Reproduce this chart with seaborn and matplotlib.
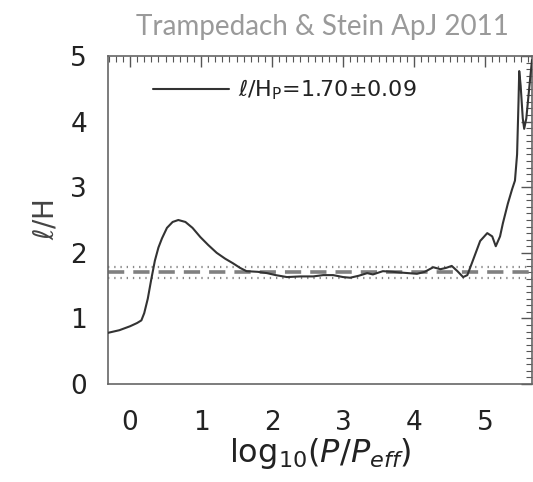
import numpy as np
import pandas as pd
import matplotlib
matplotlib.use("Agg")
import matplotlib.pyplot as plt
import seaborn as sns
from matplotlib.ticker import MultipleLocator

# data
log_p = [-0.31, -0.15, 0.00, 0.10, 0.16, 0.20, 0.25, 0.30, 0.35, 0.40, 0.45, 0.52,
         0.60, 0.68, 0.78, 0.88, 0.99, 1.10, 1.22, 1.34, 1.45, 1.55, 1.64, 1.80,
         1.93, 2.05, 2.21, 2.40, 2.58, 2.72, 2.86, 3.00, 3.10, 3.22, 3.34, 3.42,
         3.56, 3.70, 3.80, 3.92, 4.04, 4.15, 4.27, 4.37, 4.45, 4.53, 4.61, 4.69,
         4.75, 4.83, 4.93, 5.03, 5.10, 5.15, 5.21, 5.25, 5.32, 5.38, 5.42, 5.45,
         5.47, 5.48, 5.50, 5.53, 5.55, 5.58, 5.62, 5.66]
l_over_h = [0.78, 0.82, 0.88, 0.93, 0.97, 1.08, 1.30, 1.60, 1.88, 2.08, 2.22, 2.38,
            2.47, 2.50, 2.47, 2.38, 2.24, 2.12, 2.00, 1.91, 1.84, 1.77, 1.72, 1.71,
            1.69, 1.66, 1.63, 1.64, 1.64, 1.66, 1.66, 1.63, 1.62, 1.65, 1.69, 1.67,
            1.72, 1.71, 1.70, 1.69, 1.68, 1.71, 1.78, 1.75, 1.77, 1.80, 1.72, 1.63,
            1.66, 1.89, 2.18, 2.30, 2.25, 2.10, 2.25, 2.45, 2.75, 2.97, 3.10, 3.50,
            4.30, 4.77, 4.55, 4.05, 3.89, 4.05, 4.50, 4.94]
mean_val = 1.70
err_val = 0.09
x_ticks = [0, 1, 2, 3, 4, 5]
y_ticks = [0, 1, 2, 3, 4, 5]
title_text = "Trampedach & Stein ApJ 2011"
legend_text = r"$\ell$/H$_{\rm P}$=1.70$\pm$0.09"

df = pd.DataFrame({"x": log_p, "y": l_over_h})

sns.set_theme(style="white")
plt.rcParams["font.family"] = ["DejaVu Sans"]

fig = plt.figure(figsize=(5.33, 4.82), dpi=100)
ax = fig.add_axes([108 / 533, (482 - 384) / 482, (532 - 108) / 533, (384 - 56) / 482])

ax.axhline(mean_val, color="#808080", lw=2.6, ls=(0, (4.5, 2.5)), zorder=1)
ax.axhline(mean_val + err_val, color="#888888", lw=1.6, ls=(0, (0.6, 2.2)), zorder=1)
ax.axhline(mean_val - err_val, color="#888888", lw=1.6, ls=(0, (0.6, 2.2)), zorder=1)

sns.lineplot(data=df, x="x", y="y", ax=ax, color="#333333", lw=1.5,
             label=legend_text, zorder=3)

ax.set_xlim(-0.31, 5.66)
ax.set_ylim(0, 5)
ax.set_xticks(x_ticks)
ax.set_yticks(y_ticks)
ax.xaxis.set_minor_locator(MultipleLocator(0.1))
ax.yaxis.set_minor_locator(MultipleLocator(0.1))
ax.tick_params(which="both", direction="in", top=True, right=True,
               color="#555555", labelcolor="#222222")
ax.tick_params(which="major", length=8, width=1.0, labelsize=19)
ax.tick_params(axis="x", which="major", pad=19)
ax.tick_params(axis="y", which="major", pad=15)
ax.tick_params(which="minor", length=4, width=0.8)
for s in ax.spines.values():
    s.set_color("#666666")
    s.set_linewidth(1.2)

ax.set_xlabel(r"log$_{10}$($P/P_{eff}$)", fontsize=23, color="#222222", labelpad=0)
ax.set_ylabel(r"$\ell$/H", fontsize=20, color="#444444", labelpad=8)

leg = ax.legend(loc="upper left", frameon=False, fontsize=16, handlelength=3.4,
                handletextpad=0.4, borderaxespad=0.5, bbox_to_anchor=(0.06, 0.995))
for t in leg.get_texts():
    t.set_color("#222222")

fig.text(0.605, 0.945, title_text, ha="center", va="center", fontsize=20,
         color="#9a9a9a", family="Lato")

fig.savefig("out.png", dpi=100)
